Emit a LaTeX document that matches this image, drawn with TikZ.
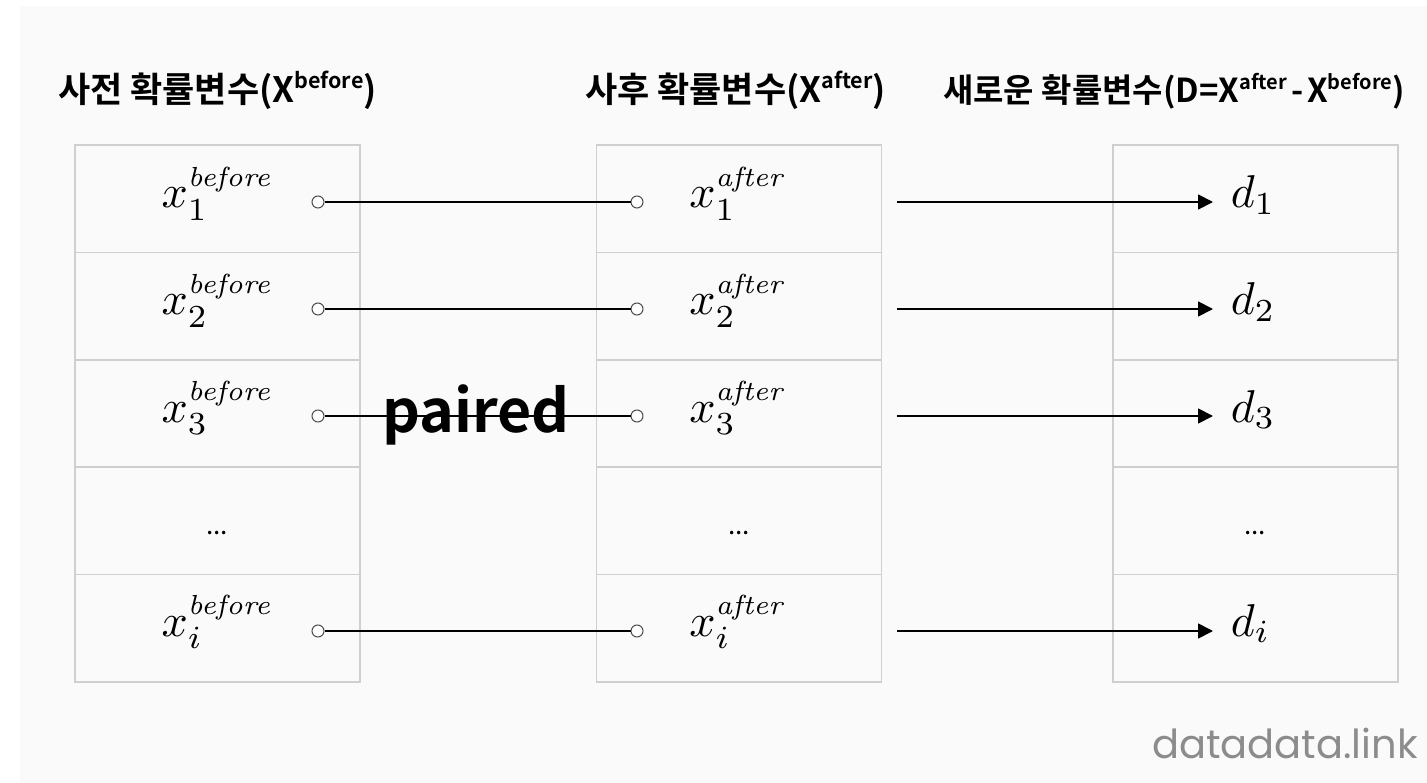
\documentclass[tikz,border=0pt]{standalone}
\usepackage{fontspec}
\usetikzlibrary{arrows.meta}
\newfontfamily\krb{Noto Sans CJK KR Bold}
\newfontfamily\kr{Noto Sans CJK KR}
\newfontfamily\wm{Poppins}
\definecolor{bggray}{HTML}{FAFAFA}
\definecolor{cellgray}{HTML}{CFCFCF}
\definecolor{wmgray}{HTML}{8C8C8C}
\newcommand{\titlesup}[1]{\raisebox{0.42em}{\fontsize{21.5}{21.5}\selectfont #1}}
\newcommand{\titlesupR}[1]{\raisebox{0.42em}{\fontsize{20}{20}\selectfont #1}}
\newcommand{\supit}[1]{\mbox{\fontsize{6}{7}\selectfont\itshape #1}}
\begin{document}
\begin{tikzpicture}[x=1pt,y=-1pt,
  cell/.style={draw=cellgray, line width=1.5pt, minimum width=285pt, minimum height=107.4pt, inner sep=0pt},
  title/.style={anchor=base west, inner sep=0pt, font=\krb\fontsize{35}{40}\selectfont},
  lbl/.style={anchor=base, inner sep=0pt, scale=4.6, font=\fontsize{10}{12}\selectfont},
  dots/.style={anchor=base, inner sep=0pt, font=\kr\fontsize{26}{30}\selectfont},
  pin/.style={circle, draw=black!70, fill=white, line width=1pt, minimum size=12pt, inner sep=0pt},
  conn/.style={line width=1.8pt, black},
  arr/.style={line width=1.8pt, black, -{Triangle[length=15pt,width=15pt]}}
]
\useasboundingbox (0,0) rectangle (1427,783);
\fill[bggray] (20,6) rectangle (1427,783);

% titles
\node[title] (tL) at (58,103) {사전 확률변수(X\titlesup{before})};
\node[title] (tM) at (585,103) {사후 확률변수(X\titlesup{after})};
\node[title, font=\krb\fontsize{33}{38}\selectfont] (tR) at (943,103) {새로운 확률변수(D=X\titlesupR{after}\hspace{4pt}-\hspace{4pt}X\titlesupR{before})};

% cells
\foreach \r/\y in {1/198.7,2/306.1,3/413.5,4/520.9,5/628.3}{
  \node[cell] (L\r) at (217.5,\y) {};
  \node[cell] (M\r) at (739,\y) {};
  \node[cell] (R\r) at (1255.5,\y) {};
}

% labels
\foreach \r/\s/\y in {1/1/208,2/2/315,3/3/422,5/i/636}{
  \node[lbl] (xb\r) at (217,\y) {$x_{\s}^{\supit{before}}$};
  \node[lbl] (xa\r) at (737,\y) {$x_{\s}^{\supit{after}}$};
  \node[lbl, anchor=base west] (d\r) at (1230,\y) {$d_{\s}$};
}
\node[dots] (dotL) at (217,534) {...};
\node[dots] (dotM) at (739,534) {...};
\node[dots] (dotR) at (1255,534) {...};

% connectors
\foreach \r/\y in {1/202,2/309,3/416,5/631}{
  \node[pin] (pL\r) at (318,\y) {};
  \node[pin] (pM\r) at (637,\y) {};
  \draw[conn] (pL\r) -- (pM\r);
  \coordinate (aS\r) at (897,\y);
  \coordinate (aE\r) at (1213,\y);
  \draw[arr] (aS\r) -- (aE\r);
}

\node[anchor=base, inner sep=0pt, font=\krb\fontsize{59}{64}\selectfont] (paired) at (476,432) {paired};

\node[anchor=base east, inner sep=0pt, text=wmgray, font=\wm\fontsize{40}{44}\selectfont] (wmk) at (1418,758) {datadata.link};
\end{tikzpicture}
\end{document}
